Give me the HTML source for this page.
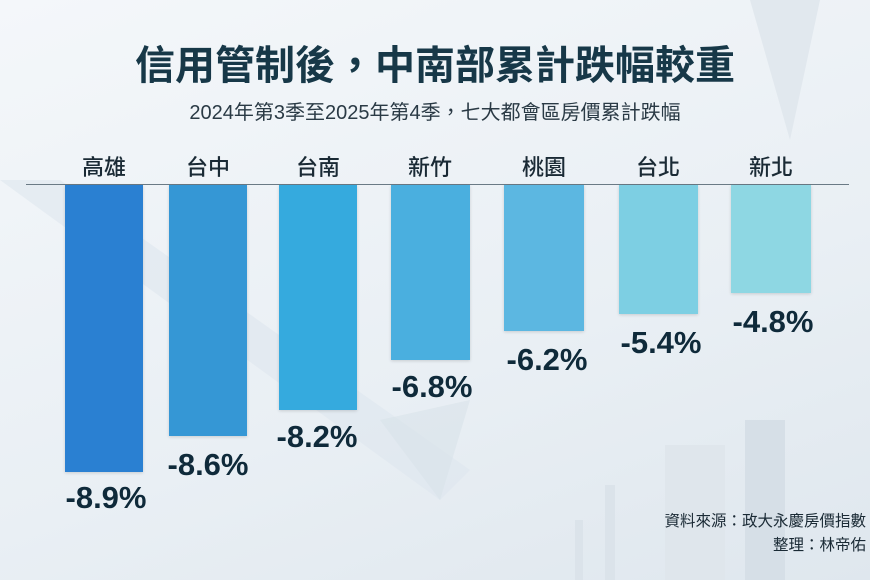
<!DOCTYPE html>
<html><head><meta charset="utf-8"><style>
body{margin:0;width:870px;height:580px;overflow:hidden;font-family:"Liberation Sans","Noto Sans CJK TC",sans-serif;background:linear-gradient(160deg,#f4f7fa 0%,#e9eff4 60%,#dfe7ee 100%);position:relative;color:#12303f}
.a{position:absolute}
.t{left:0;width:870px;text-align:center}
.bar{position:absolute;top:185px;box-shadow:0 1px 3px rgba(0,0,0,.15)}
.cat{position:absolute;top:150px;width:100px;text-align:center;font-size:22px;color:#1a2a35;font-weight:500}
.v{position:absolute;width:120px;text-align:center;font-size:31px;font-weight:bold;color:#0f2a3a}
</style></head><body>
<svg class="a" style="left:0;top:0" width="870" height="580">
<polygon points="0,180 60,180 470,470 440,500" fill="#dde6ee" opacity=".6"/>
<polygon points="380,420 470,400 440,500" fill="#d8e2ea" opacity=".6"/>
<rect x="665" y="445" width="60" height="135" fill="#dfe6ec"/>
<rect x="745" y="420" width="40" height="160" fill="#d6dfe7"/>
<rect x="605" y="485" width="10" height="95" fill="#dbe3ea"/>
<rect x="575" y="520" width="8" height="60" fill="#dbe3ea"/>
<polygon points="750,0 820,0 790,140" fill="#e1e8ee"/>
</svg>
<div class="a t" style="top:33px;font-size:40px;font-weight:bold;color:#173848">信用管制後，中南部累計跌幅較重</div>
<div class="a t" style="top:96px;font-size:20px;color:#2a3a45">2024年第3季至2025年第4季，七大都會區房價累計跌幅</div>
<div class="a" style="left:26px;top:184px;width:823px;height:1px;background:#6a7a85"></div>
<div class="cat" style="left:54px">高雄</div>
<div class="cat" style="left:158px">台中</div>
<div class="cat" style="left:268px">台南</div>
<div class="cat" style="left:380px">新竹</div>
<div class="cat" style="left:494px">桃園</div>
<div class="cat" style="left:608px">台北</div>
<div class="cat" style="left:721px">新北</div>
<div class="bar" style="left:65px;width:78px;height:287px;background:#2a80d2"></div>
<div class="bar" style="left:169px;width:78px;height:251px;background:#3597d5"></div>
<div class="bar" style="left:279px;width:78px;height:225px;background:#35aade"></div>
<div class="bar" style="left:391px;width:79px;height:175px;background:#4aafdf"></div>
<div class="bar" style="left:504px;width:80px;height:146px;background:#5cb7e1"></div>
<div class="bar" style="left:619px;width:79px;height:129px;background:#7dcfe3"></div>
<div class="bar" style="left:731px;width:80px;height:108px;background:#8ed7e3"></div>
<div class="v" style="left:46px;top:480px">-8.9%</div>
<div class="v" style="left:148px;top:447px">-8.6%</div>
<div class="v" style="left:257px;top:419px">-8.2%</div>
<div class="v" style="left:372px;top:369px">-6.8%</div>
<div class="v" style="left:487px;top:342px">-6.2%</div>
<div class="v" style="left:601px;top:325px">-5.4%</div>
<div class="v" style="left:713px;top:304px">-4.8%</div>
<div class="a" style="right:4px;top:510px;font-size:15.5px;color:#1a2a35;text-align:right;line-height:24px">資料來源：政大永慶房價指數<br>整理：林帝佑</div>
</body></html>
